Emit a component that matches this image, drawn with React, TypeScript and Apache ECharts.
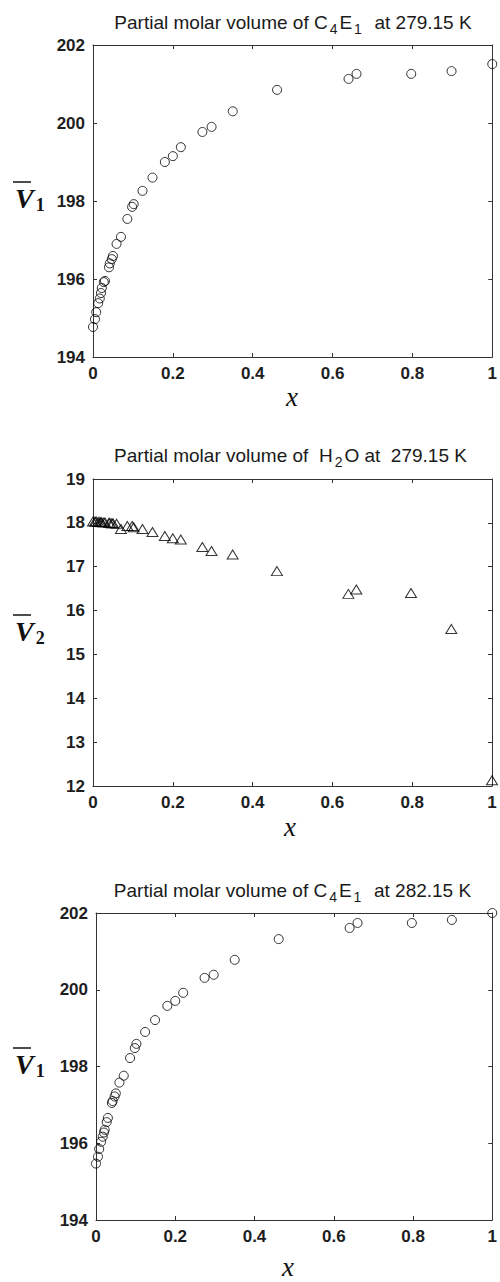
import React, { useEffect, useRef } from 'react';
import * as echarts from 'echarts';

// Mole fraction of C4E1 for each measured mixture
const xFrac = [
  0, 0.005, 0.008, 0.013, 0.017, 0.02, 0.022, 0.027, 0.03, 0.04, 0.042, 0.047, 0.05,
  0.059, 0.07, 0.086, 0.098, 0.102, 0.124, 0.149, 0.18, 0.2, 0.22, 0.274, 0.297, 0.35,
  0.461, 0.64, 0.66, 0.797, 0.898, 1.0,
];

// Partial molar volume of C4E1 at 279.15 K
const v1At279 = [
  194.77, 194.97, 195.15, 195.38, 195.5, 195.64, 195.77, 195.92, 195.95, 196.3, 196.4,
  196.51, 196.59, 196.9, 197.08, 197.54, 197.85, 197.92, 198.26, 198.6, 199.0, 199.15,
  199.38, 199.77, 199.9, 200.3, 200.85, 201.13, 201.26, 201.26, 201.33, 201.51,
];

// Partial molar volume of H2O at 279.15 K
const v2At279 = [
  18.03, 18.03, 18.03, 18.02, 18.02, 18.02, 18.01, 18.01, 18.01, 18.0, 18.0, 17.99, 17.99,
  17.98, 17.86, 17.93, 17.93, 17.9, 17.86, 17.79, 17.7, 17.65, 17.62, 17.45, 17.36, 17.28,
  16.9, 16.38, 16.48, 16.4, 15.58, 12.13,
];

// Partial molar volume of C4E1 at 282.15 K
const v1At282 = [
  195.47, 195.65, 195.85, 196.04, 196.17, 196.28, 196.35, 196.55, 196.66, 197.05, 197.1,
  197.22, 197.3, 197.58, 197.76, 198.22, 198.48, 198.59, 198.9, 199.21, 199.58, 199.71,
  199.92, 200.31, 200.39, 200.78, 201.32, 201.61, 201.74, 201.74, 201.82, 202.0,
];

const titles = [
  '{n|Partial molar volume of C}{s|4}{n|E}{s|1}{n|  at 279.15 K}',
  '{n|Partial molar volume of  H}{s|2}{n|O at  279.15 K}',
  '{n|Partial molar volume of C}{s|4}{n|E}{s|1}{n|  at 282.15 K}',
];
const yNames = ['1', '2', '1'];

const panels = [
  { grid: { left: 93, top: 45, width: 404, height: 312 }, yMin: 194, yMax: 202, yStep: 2,
    values: v1At279, symbol: 'circle', titleY: 22, yLabelY: 198, xLabelY: 398, xLabelX: 292 },
  { grid: { left: 93, top: 479, width: 399, height: 307 }, yMin: 12, yMax: 19, yStep: 1,
    values: v2At279, symbol: 'triangle', titleY: 455, yLabelY: 631, xLabelY: 828, xLabelX: 290 },
  { grid: { left: 96, top: 913, width: 397, height: 307 }, yMin: 194, yMax: 202, yStep: 2,
    values: v1At282, symbol: 'circle', titleY: 890, yLabelY: 1064, xLabelY: 1268, xLabelX: 288 },
];

const frameColor = '#333';
const tickFont = {
  fontFamily: 'Liberation Sans, Arial, sans-serif',
  fontWeight: 'bold' as const,
  fontSize: 17,
  color: '#1e1e1e',
};

export default function App() {
  const ref = useRef<HTMLDivElement>(null);

  useEffect(() => {
    if (!ref.current) return;
    const chart = echarts.init(ref.current, undefined, { renderer: 'svg' });

    const grids: any[] = [];
    const xAxes: any[] = [];
    const yAxes: any[] = [];
    const series: any[] = [];
    const graphics: any[] = [];

    panels.forEach((p, i) => {
      grids.push({ ...p.grid, containLabel: false });
      const lineCfg = { show: true, onZero: false, lineStyle: { color: frameColor, width: 1 } };
      const tickCfg = { show: true, inside: true, length: 4, lineStyle: { color: frameColor } };
      const xBase = {
        type: 'value', gridIndex: i, min: 0, max: 1, interval: 0.2,
        axisLine: lineCfg, axisTick: tickCfg, splitLine: { show: false },
      };
      xAxes.push({
        ...xBase, position: 'bottom',
        axisLabel: {
          ...tickFont, margin: 8, showMinLabel: true, showMaxLabel: true,
          formatter: (v: number) => String(Number(v.toFixed(1))),
        },
      });
      xAxes.push({ ...xBase, position: 'top', axisLabel: { show: false } });
      const yBase = {
        type: 'value', gridIndex: i, min: p.yMin, max: p.yMax, interval: p.yStep,
        axisLine: lineCfg, axisTick: tickCfg, splitLine: { show: false },
      };
      yAxes.push({
        ...yBase, position: 'left',
        axisLabel: { ...tickFont, margin: 8, showMinLabel: true, showMaxLabel: true },
      });
      yAxes.push({ ...yBase, position: 'right', axisLabel: { show: false } });

      series.push({
        type: 'scatter',
        xAxisIndex: i * 2,
        yAxisIndex: i * 2,
        data: xFrac.map((x, j) => [x, p.values[j]]),
        symbol: p.symbol,
        symbolSize: p.symbol === 'triangle' ? [11, 9] : 9,
        clip: false,
        silent: true,
        itemStyle: { color: 'rgba(0,0,0,0)', borderColor: '#000', borderWidth: 1 },
      });

      const cx = p.grid.left + p.grid.width / 2;
      // panel title with sub-scripted formula
      graphics.push({
        type: 'text', x: cx - 2, y: p.titleY,
        style: {
          text: titles[i], align: 'center', verticalAlign: 'middle',
          rich: {
            n: { fontSize: 19, fontFamily: 'Liberation Sans, Arial, sans-serif', fill: '#1a1a1a' },
            s: { fontSize: 14, fontFamily: 'Liberation Sans, Arial, sans-serif', fill: '#1a1a1a', padding: [13, 2, 0, 2] },
          },
        },
      });
      // y-axis name: V with overbar and subscript
      graphics.push({
        type: 'text', x: 15, y: p.yLabelY,
        style: {
          text: `{v|V}{s|${yNames[i]}}`, align: 'left', verticalAlign: 'middle',
          rich: {
            v: { fontSize: 28, fontStyle: 'italic', fontWeight: 'bold', fontFamily: 'Liberation Serif, Times New Roman, serif', fill: '#111' },
            s: { fontSize: 18, fontWeight: 'bold', fontFamily: 'Liberation Serif, Times New Roman, serif', fill: '#111', padding: [14, 0, 0, 2] },
          },
        },
      });
      graphics.push({
        type: 'line',
        shape: { x1: 13, y1: p.yLabelY - 16, x2: 31, y2: p.yLabelY - 16 },
        style: { stroke: '#111', lineWidth: 1.5 },
      });
      // x-axis name
      graphics.push({
        type: 'text', x: p.xLabelX, y: p.xLabelY + 12,
        style: {
          text: 'x', align: 'center', verticalAlign: 'bottom',
          fontSize: 27, fontStyle: 'italic', fontFamily: 'Liberation Serif, Times New Roman, serif', fill: '#111',
        },
      });
    });

    chart.setOption({
      animation: false,
      backgroundColor: '#fff',
      grid: grids,
      xAxis: xAxes,
      yAxis: yAxes,
      series,
      graphic: graphics,
    });

    return () => chart.dispose();
  }, []);

  return (
    <div
      ref={ref}
      style={{ position: 'absolute', left: 0, top: 0, width: 500, height: 1282 }}
    />
  );
}
